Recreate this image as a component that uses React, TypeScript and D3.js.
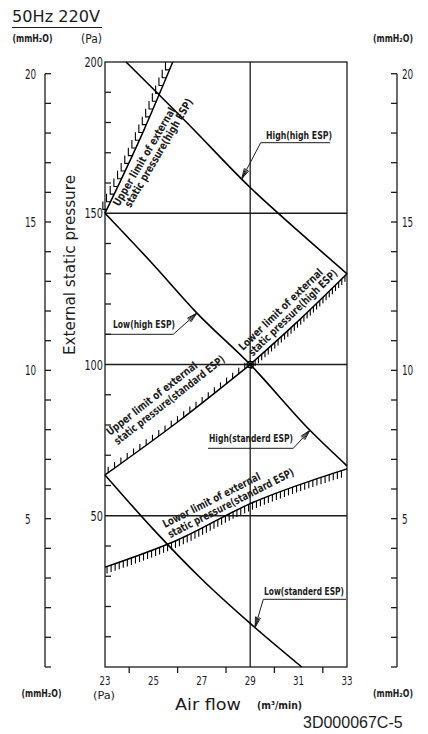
import React, { useEffect, useRef } from 'react';
import * as d3 from 'd3';

// axis values
const airflowLabels = [23, 25, 27, 29, 31, 33];
const airflowMinor = [24, 26, 28, 30, 32];
const paLabels = [50, 100, 150, 200];
const paMinor = [10, 20, 30, 40, 60, 70, 80, 90, 110, 120, 130, 140, 160, 170, 180, 190];
const mmLabels = [5, 10, 15, 20];
const mmMinor = [0, 1, 2, 3, 4, 5, 6, 7, 8, 9, 10, 11, 12, 13, 14, 15, 16, 17, 18, 19, 20];

// fan curves: [air flow m3/min, external static pressure Pa]
const highHighEsp = [[23.87, 200], [26.5, 179], [29, 158.5], [31, 144], [33, 130]];
// one line: Low(high ESP) on the upper part, High(standerd ESP) on the lower part
const lowHighEsp = [[23, 150], [25, 133], [26.8, 117], [29, 100], [31.5, 78], [33, 66.5]];
const lowStdEsp = [[23, 63.5], [25, 45.5], [27, 29], [29, 14.4], [31.13, 0]];

// limit curves
const upperLimitHigh = [[23, 150], [24.58, 177], [25.8, 200]];
const upperLimitStd = [[23, 63.5], [26, 81], [29, 100]];
const lowerLimitHigh = [[29, 100], [31, 114.5], [33, 130]];
const lowerLimitStd = [[23, 33], [26, 42], [29, 54], [33, 65.5]];

const App = () => {
  const chartRef = useRef(null);

  useEffect(() => {
    const svg = d3.select(chartRef.current);
    svg.selectAll('*').remove();

    const x = d3.scaleLinear().domain([23, 33]).range([105, 347]);
    const y = d3.scaleLinear().domain([0, 200]).range([667, 62]);
    const ym = (v) => y(v * 9.80665);
    const ink = '#1c1c1c';
    const narrow = "'Liberation Sans Narrow','DejaVu Sans Condensed',sans-serif";

    const line = d3.line().x(d => x(d[0])).y(d => y(d[1])).curve(d3.curveMonotoneX);

    const txt = (g, s, px, py, opts = {}) => {
      const t = g.append('text')
        .attr('x', px).attr('y', py)
        .attr('font-family', narrow)
        .attr('font-size', opts.size || 12)
        .attr('font-weight', opts.bold ? 'bold' : 'normal')
        .attr('fill', ink)
        .attr('text-anchor', opts.anchor || 'start')
        .text(s);
      if (opts.len) t.attr('textLength', opts.len).attr('lengthAdjust', 'spacingAndGlyphs');
      return t;
    };

    // title
    txt(svg, '50Hz 220V', 12, 22, { size: 15, len: 88 });
    svg.append('line').attr('x1', 12).attr('x2', 102).attr('y1', 27.5).attr('y2', 27.5)
      .attr('stroke', ink).attr('stroke-width', 1.2);

    // unit labels
    txt(svg, '(mmH₂O)', 12.5, 42, { size: 10, bold: true, len: 40 });
    txt(svg, '(Pa)', 81, 43, { size: 12, len: 21 });
    txt(svg, '(mmH₂O)', 373, 42, { size: 10, bold: true, len: 40 });
    txt(svg, '(mmH₂O)', 21.5, 697, { size: 10, bold: true, len: 40 });
    txt(svg, '(Pa)', 93, 699, { size: 11, len: 22 });
    txt(svg, '(mmH₂O)', 373, 697, { size: 10, bold: true, len: 40 });

    // frame and grid
    const grid = svg.append('g').attr('stroke', ink).attr('stroke-width', 1.3).attr('fill', 'none');
    grid.append('rect').attr('x', x(23)).attr('y', y(200))
      .attr('width', x(33) - x(23)).attr('height', y(0) - y(200));
    grid.selectAll('.h').data(paLabels.slice(0, 3)).join('line')
      .attr('x1', x(23)).attr('x2', x(33)).attr('y1', d => y(d)).attr('y2', d => y(d));
    grid.append('line').attr('x1', x(29)).attr('x2', x(29)).attr('y1', y(0)).attr('y2', y(200));

    // Pa axis ticks (inside)
    grid.selectAll('.pm').data(paMinor).join('line')
      .attr('x1', x(23)).attr('x2', x(23) + 6).attr('y1', d => y(d)).attr('y2', d => y(d));
    paLabels.forEach(v => txt(svg, String(v), 103, y(v) + 5, { size: 14, anchor: 'end', len: String(v).length * 6.2 }));

    // air flow axis
    grid.selectAll('.am').data(airflowMinor).join('line')
      .attr('x1', d => x(d)).attr('x2', d => x(d)).attr('y1', y(0)).attr('y2', y(0) + 6);
    airflowLabels.forEach(v => txt(svg, String(v), x(v), 684.5, { size: 13, anchor: 'middle', len: 11 }));
    txt(svg, 'Air flow', 175, 710, { size: 15, len: 66 });
    txt(svg, '(m³/min)', 257, 709, { size: 10, bold: true, len: 45 });

    // mmH2O axes, left and right
    const mmAxis = (ax, dir, labelX) => {
      const g = svg.append('g').attr('stroke', ink).attr('stroke-width', 1.3);
      g.append('line').attr('x1', ax).attr('x2', ax).attr('y1', ym(0)).attr('y2', ym(20));
      g.selectAll('line.t').data(mmMinor).join('line').attr('class', 't')
        .attr('x1', ax).attr('x2', ax + dir * 6).attr('y1', d => ym(d)).attr('y2', d => ym(d));
      mmLabels.forEach(v => txt(svg, String(v), labelX, ym(v) + 5, { size: 14, len: String(v).length * 5.6 }));
    };
    mmAxis(45, 1, 25);
    mmAxis(397, -1, 402);

    // vertical axis title
    svg.append('text')
      .attr('transform', 'translate(75,265) rotate(-90)')
      .attr('text-anchor', 'middle')
      .attr('font-family', narrow).attr('font-size', 15).attr('fill', ink)
      .attr('textLength', 180).attr('lengthAdjust', 'spacingAndGlyphs')
      .text('External static pressure');

    // limit curves with hatching (dir -1: ticks up, 1: ticks down)
    const curves = svg.append('g');
    const hatch = (pts, dir, spacing, len, foot = 0) => {
      const path = curves.append('path').attr('d', line(pts))
        .attr('fill', 'none').attr('stroke', '#000').attr('stroke-width', 1.5);
      const node = path.node();
      const total = node.getTotalLength();
      const ticks = [];
      for (let s = spacing / 2; s < total - 2; s += spacing) ticks.push(node.getPointAtLength(s));
      curves.append('g').attr('stroke', '#000').attr('stroke-width', 1.1).attr('fill', 'none')
        .selectAll('path').data(ticks).join('path')
        .attr('d', p => `M${p.x},${p.y}H${p.x - foot}V${p.y + dir * len}`);
    };
    hatch(upperLimitHigh, -1, 8.5, 8, 4);
    hatch(upperLimitStd, -1, 7.8, 6);
    hatch(lowerLimitHigh, 1, 4.4, 6);
    hatch(lowerLimitStd, 1, 4.3, 7);

    // fan curves
    [highHighEsp, lowHighEsp, lowStdEsp].forEach(c => {
      curves.append('path').attr('d', line(c))
        .attr('fill', 'none').attr('stroke', '#000').attr('stroke-width', 1.6);
    });
    curves.append('circle').attr('cx', x(29)).attr('cy', y(100)).attr('r', 3.2)
      .attr('fill', 'none').attr('stroke', '#000').attr('stroke-width', 1.3);

    // limit labels along the hatched curves
    const limitLabels = [
      { at: [119, 207], rot: -59.6, l2: [4.7, 10.5], t1: 'Upper limit of external', t2: 'static pressure(high ESP)', w1: 112, w2: 124 },
      { at: [243, 351], rot: -44, l2: [3, 10.8], t1: 'Lower limit of external', t2: 'static pressure(high ESP)', w1: 112, w2: 119 },
      { at: [110, 436], rot: -38, l2: [0.5, 12], t1: 'Upper limit of external', t2: 'static pressure(standard ESP)', w1: 112, w2: 137 },
      { at: [165, 528], rot: -27, l2: [0, 11.5], t1: 'Lower limit of external', t2: 'static pressure(standard ESP)', w1: 108, w2: 140 },
    ];
    limitLabels.forEach(d => {
      const g = svg.append('g').attr('transform', `translate(${d.at[0]},${d.at[1]}) rotate(${d.rot})`);
      txt(g, d.t1, 0, 0, { size: 11, bold: true, len: d.w1 });
      txt(g, d.t2, d.l2[0], d.l2[1], { size: 11, bold: true, len: d.w2 });
    });

    // curve labels with leaders and arrows
    const valueAt = (pts, q) => d3.scaleLinear().domain(pts.map(p => p[0])).range(pts.map(p => p[1]))(q);
    const notes = [
      { text: 'High(high ESP)', curve: highHighEsp, q: 28.65, tx: 266, ty: 139, w: 66, u: [260.7, 330, 142.7], from: 260.7 },
      { text: 'Low(high ESP)', curve: lowHighEsp, q: 26.8, tx: 113, ty: 328, w: 62, u: [105, 173.3, 334.3], from: 173.3 },
      { text: 'High(standerd ESP)', curve: lowHighEsp, q: 31.47, tx: 209, ty: 442, w: 84, u: [208, 293.3, 448.3], from: 293.3 },
      { text: 'Low(standerd ESP)', curve: lowStdEsp, q: 29.2, tx: 264, ty: 595, w: 80, u: [263.3, 346, 599.3], from: 263.3 },
    ];
    const ng = svg.append('g');
    notes.forEach(n => {
      txt(ng, n.text, n.tx, n.ty, { size: 11, bold: true, len: n.w });
      const tip = [x(n.q), y(valueAt(n.curve, n.q))];
      const start = [n.from, n.u[2]];
      const s = ng.append('g').attr('stroke', ink).attr('stroke-width', 1).attr('fill', 'none');
      s.append('line').attr('x1', n.u[0]).attr('x2', n.u[1]).attr('y1', n.u[2]).attr('y2', n.u[2]);
      s.append('line').attr('x1', start[0]).attr('y1', start[1]).attr('x2', tip[0]).attr('y2', tip[1]);
      const ang = Math.atan2(start[1] - tip[1], start[0] - tip[0]);
      [-0.24, -0.12, 0.12, 0.24].forEach(da => {
        s.append('line').attr('x1', tip[0]).attr('y1', tip[1])
          .attr('x2', tip[0] + 11 * Math.cos(ang + da)).attr('y2', tip[1] + 11 * Math.sin(ang + da));
      });
    });

    // drawing number
    svg.append('text').attr('x', 303).attr('y', 728)
      .attr('font-family', "'Liberation Sans',Arial,sans-serif").attr('font-size', 16)
      .attr('fill', ink).text('3D000067C-5');
  }, []);

  return (
    <svg ref={chartRef} width="428" height="734"
      style={{ position: 'absolute', left: 0, top: 0, background: '#fff' }}></svg>
  );
};

export default App;
